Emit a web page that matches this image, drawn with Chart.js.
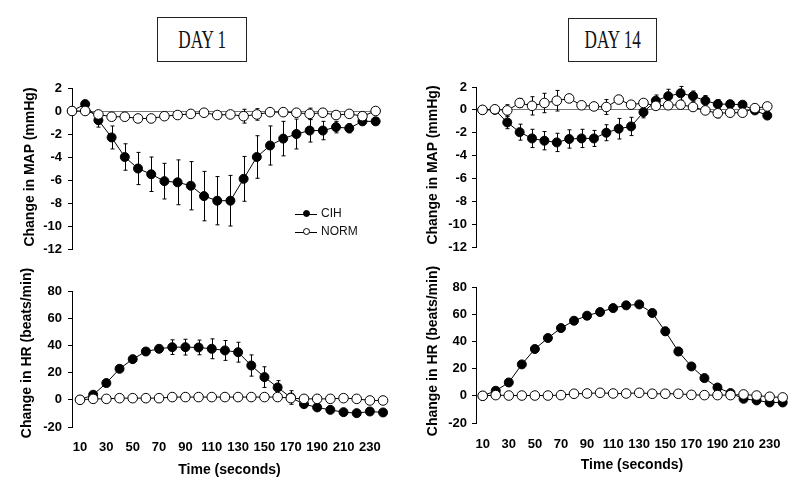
<!DOCTYPE html>
<html>
<head>
<meta charset="utf-8">
<script src="https://cdn.jsdelivr.net/npm/chart.js@4.4.1/dist/chart.umd.min.js"></script>
<style>
  body { margin: 0; background: #fff; }
  #page { position: relative; width: 800px; height: 487px; overflow: hidden; background: #fff; }
  .panel { position: absolute; }
  .daybox {
    position: absolute; border: 1px solid #222; box-sizing: border-box;
    display: flex; align-items: center; justify-content: center;
    font-family: 'Liberation Serif', 'Times New Roman', serif; font-size: 26px; color: #111;
  }
  .daybox span { display: inline-block; transform: scaleX(0.66); white-space: nowrap; }
  .ytitle {
    position: absolute; white-space: nowrap; color: #000;
    font-family: 'Liberation Sans', Arial, sans-serif; font-size: 14px; font-weight: bold;
    transform: translate(-50%, -50%) rotate(-90deg);
  }
  .leg { position: absolute; font-family: 'Liberation Sans', Arial, sans-serif; font-size: 12px; color: #111; }
  .leg .ln { position: absolute; left: 0; width: 22px; top: 0; border-top: 1px solid #000; }
  .leg .dot { position: absolute; left: 8px; top: -4px; width: 7px; height: 7px; border-radius: 50%; border: 1px solid #000; box-sizing: border-box; }
  .leg .lab { position: absolute; left: 26px; top: -8px; white-space: nowrap; }
</style>
</head>
<body>
<div id="page">
  <div class="daybox" style="left:157px;top:17px;width:90px;height:45px"><span>DAY 1</span></div>
  <div class="daybox" style="left:568px;top:18px;width:89px;height:44px"><span>DAY 14</span></div>

  <div class="panel" id="p1"><canvas id="mapDay1"></canvas></div>
  <div class="panel" id="p2"><canvas id="mapDay14"></canvas></div>
  <div class="panel" id="p3"><canvas id="hrDay1"></canvas></div>
  <div class="panel" id="p4"><canvas id="hrDay14"></canvas></div>

  <div class="ytitle" style="left:29px;top:167px">Change in MAP (mmHg)</div>
  <div class="ytitle" style="left:432px;top:165px">Change in MAP (mmHg)</div>
  <div class="ytitle" style="left:26px;top:353px">Change in HR (beats/min)</div>
  <div class="ytitle" style="left:432px;top:351px">Change in HR (beats/min)</div>

  <div class="leg" style="left:295px;top:214px"><span class="ln"></span><span class="dot" style="background:#000"></span><span class="lab">CIH</span></div>
  <div class="leg" style="left:295px;top:232px"><span class="ln"></span><span class="dot" style="background:#fff"></span><span class="lab">NORM</span></div>
</div>
<script>
// time points (seconds)
const times = [10,20,30,40,50,60,70,80,90,100,110,120,130,140,150,160,170,180,190,200,210,220,230,240];
const timeTicks = [10,30,50,70,90,110,130,150,170,190,210,230];
const mapTicks = [2,0,-2,-4,-6,-8,-10,-12];
const hrTicks = [80,60,40,20,0,-20];

// Day 1 - MAP (mmHg)
const mapDay1Cih  = [0, 0.6, -0.8, -2.3, -4.0, -5.0, -5.5, -6.1, -6.2, -6.5, -7.4, -7.8, -7.8, -5.9, -4.0, -3.0, -2.4, -2.0, -1.7, -1.7, -1.4, -1.5, -0.9, -0.9];
const mapDay1CihErr = [0, 0.3, 0.6, 1.0, 1.15, 1.4, 1.5, 1.55, 1.95, 2.1, 2.15, 2.1, 2.2, 1.95, 1.85, 1.7, 1.5, 1.3, 1.0, 0.8, 0.5, 0.4, 0.3, 0.3];
const mapDay1Norm = [0, 0, -0.3, -0.5, -0.5, -0.65, -0.65, -0.45, -0.35, -0.25, -0.15, -0.35, -0.3, -0.45, -0.3, -0.1, -0.1, -0.15, -0.25, -0.15, -0.35, -0.25, -0.45, 0];
const mapDay1NormErr = [0, 0, 0.2, 0.3, 0.2, 0.3, 0.2, 0.2, 0.2, 0.2, 0.2, 0.2, 0.2, 0.6, 0.5, 0.3, 0.3, 0.3, 0.5, 0.3, 0.3, 0.3, 0.3, 0.2];

// Day 14 - MAP (mmHg)
const mapDay14Cih  = [0, 0, -1.1, -1.95, -2.5, -2.7, -2.85, -2.55, -2.5, -2.5, -2.0, -1.65, -1.45, -0.2, 0.8, 1.2, 1.45, 1.2, 0.8, 0.5, 0.5, 0.45, -0.05, -0.5];
const mapDay14CihErr = [0, 0.1, 0.55, 0.7, 0.8, 0.8, 0.8, 0.8, 0.8, 0.7, 0.7, 0.9, 0.8, 0.5, 0.5, 0.6, 0.6, 0.45, 0.45, 0.4, 0.3, 0.3, 0.2, 0.2];
const mapDay14Norm = [0, 0.05, -0.05, 0.6, 0.35, 0.6, 0.8, 1.0, 0.4, 0.3, 0.25, 0.9, 0.45, 0.6, 0.35, 0.4, 0.45, 0.25, -0.05, -0.3, -0.25, -0.25, 0.15, 0.3];
const mapDay14NormErr = [0, 0.1, 0.5, 0.4, 0.8, 0.85, 0.9, 0.3, 0.2, 0.3, 0.65, 0.35, 0.2, 0.2, 0.2, 0.2, 0.3, 0.2, 0.2, 0.4, 0.2, 0.2, 0.2, 0.2];

// Day 1 - HR (beats/min)
const hrDay1Cih  = [0, 3.7, 12.3, 22.8, 29.9, 35.5, 37.5, 38.7, 38.7, 38.5, 37.5, 36.3, 35.0, 25.2, 16.7, 9.1, 1.7, -3.2, -5.6, -7.4, -9.1, -9.8, -8.6, -9.3];
const hrDay1CihErr = [0, 1, 1.5, 1.5, 1.5, 1.5, 2.5, 5.4, 5.8, 5.4, 7.3, 7.3, 7.3, 7.8, 7.6, 5, 5, 2, 1, 1, 1, 1, 1, 1];
const hrDay1Norm = [0, 0.7, 0.7, 1.2, 1.2, 1.2, 1.2, 2, 2, 2, 2, 2, 2, 2, 2, 2, 1.2, 0.7, 0.7, 0.7, 1.2, 0.7, -0.5, -0.5];
const hrDay1NormErr = [0, 1, 1, 1, 1, 1, 1, 1, 1, 1, 1, 1, 1, 1, 1, 1, 3, 1, 1, 1, 1, 1, 1, 1];

// Day 14 - HR (beats/min)
const hrDay14Cih  = [0, 3.7, 9.8, 23.1, 34.4, 42.5, 49.8, 55.2, 58.9, 61.6, 64.5, 66.5, 67.2, 60.9, 47.4, 32.6, 21.6, 13.0, 6.1, 2.0, -2.2, -3.4, -4.9, -4.9];
const hrDay14CihErr = [0, 1, 1, 1, 1, 1, 1, 1, 1, 1, 1, 1, 1, 1.5, 3, 3, 1.5, 1, 1, 1, 1, 1, 1, 1];
const hrDay14Norm = [0, 0.5, 0.2, 0.2, 0.2, 0.2, 0.5, 1.5, 1.7, 2.2, 1.7, 1.7, 2.2, 1.5, 1.5, 1.5, 0.7, 0.5, 0.5, 0.5, 1.0, 0.2, -0.7, -1.2];
const hrDay14NormErr = [0, 1, 1, 1, 1, 1, 1, 1, 1, 1, 1, 1, 1, 1, 1, 1, 1, 1, 1, 1, 1, 1, 1, 1];

Chart.defaults.font.family = "'Liberation Sans', Arial, sans-serif";
Chart.defaults.color = '#000';

// vertical error bars, drawn under the markers
const errorBars = {
  id: 'errorBars',
  beforeDatasetsDraw(chart) {
    const ctx = chart.ctx;
    const y = chart.scales.y;
    chart.data.datasets.forEach((ds, i) => {
      if (!ds.errors) return;
      const meta = chart.getDatasetMeta(i);
      ctx.save();
      ctx.strokeStyle = '#000';
      ctx.lineWidth = 1;
      meta.data.forEach((pt, j) => {
        const e = ds.errors[j];
        if (!e) return;
        const v = ds.data[j].y;
        const top = y.getPixelForValue(v + e);
        const bot = y.getPixelForValue(v - e);
        const x = Math.round(pt.x) + 0.5;
        ctx.beginPath();
        ctx.moveTo(x, top); ctx.lineTo(x, bot);
        ctx.moveTo(x - 2, top); ctx.lineTo(x + 2, top);
        ctx.moveTo(x - 2, bot); ctx.lineTo(x + 2, bot);
        ctx.stroke();
      });
      ctx.restore();
    });
  }
};

function pts(vals) {
  return times.map((t, i) => ({ x: t, y: vals[i] }));
}

function panel(canvasId, box, opt) {
  const wrap = document.getElementById(canvasId).parentNode;
  wrap.style.left = box.left + 'px';
  wrap.style.top = box.top + 'px';
  wrap.style.width = box.width + 'px';
  wrap.style.height = box.height + 'px';

  new Chart(document.getElementById(canvasId), {
    type: 'line',
    data: {
      datasets: [
        {
          label: 'CIH',
          data: pts(opt.cih),
          errors: opt.cihErr,
          borderColor: '#000',
          borderWidth: 1,
          backgroundColor: '#000',
          pointBackgroundColor: '#000',
          pointBorderColor: '#000',
          pointRadius: 4.5,
          pointBorderWidth: 1,
          tension: 0,
          clip: false,
          order: 1
        },
        {
          label: 'NORM',
          data: pts(opt.norm),
          errors: opt.normErr,
          borderColor: '#000',
          borderWidth: 1,
          backgroundColor: '#fff',
          pointBackgroundColor: '#fff',
          pointBorderColor: '#000',
          pointRadius: 4.8,
          pointBorderWidth: 1,
          tension: 0,
          clip: false,
          order: 0
        }
      ]
    },
    options: {
      responsive: true,
      maintainAspectRatio: false,
      animation: false,
      events: [],
      layout: { padding: { top: 10, right: 10, left: 0, bottom: opt.showX ? 0 : 8 } },
      plugins: { legend: { display: false }, tooltip: { enabled: false } },
      scales: {
        x: {
          type: 'linear',
          min: opt.xMin,
          max: opt.xMax,
          display: opt.showX,
          border: { display: false },
          grid: { display: false, drawTicks: false },
          ticks: {
            autoSkip: false,
            maxRotation: 0,
            padding: opt.xPad,
            font: { size: 13, weight: 'bold' },
            color: '#000'
          },
          title: {
            display: true,
            text: 'Time (seconds)',
            font: { size: 14, weight: 'bold' },
            padding: 0,
            color: '#000'
          },
          afterBuildTicks(scale) {
            scale.ticks = timeTicks.map(v => ({ value: v }));
          },
          afterFit(scale) {
            scale.height = opt.xHeight || 0;
            scale.paddingLeft = 0;
            scale.paddingRight = 0;
          }
        },
        y: {
          min: opt.yTicks[opt.yTicks.length - 1],
          max: opt.yTicks[0],
          border: { display: true, color: '#000', width: 1 },
          grid: {
            drawOnChartArea: opt.zeroLine,
            color: ctx => (ctx.tick && ctx.tick.value === 0) ? '#777' : 'rgba(0,0,0,0)',
            tickColor: '#000',
            tickLength: 4,
            lineWidth: 1
          },
          ticks: {
            padding: opt.yPad,
            font: { size: 13, weight: 'bold' },
            color: '#000'
          },
          afterBuildTicks(scale) {
            scale.ticks = opt.yTicks.map(v => ({ value: v })).reverse();
          },
          afterFit(scale) {
            scale.width = opt.yWidth;
            scale.paddingTop = 0;
            scale.paddingBottom = 0;
          }
        }
      }
    },
    plugins: [errorBars]
  });
}

panel('mapDay1', { left: 20, top: 78, width: 370, height: 179 }, {
  cih: mapDay1Cih, cihErr: mapDay1CihErr, norm: mapDay1Norm, normErr: mapDay1NormErr,
  xMin: 10, xMax: 243.3, showX: false, yTicks: mapTicks, zeroLine: true,
  yWidth: 52, yPad: 6
});

panel('mapDay14', { left: 423, top: 77, width: 358, height: 178 }, {
  cih: mapDay14Cih, cihErr: mapDay14CihErr, norm: mapDay14Norm, normErr: mapDay14NormErr,
  xMin: 4.75, xMax: 243, showX: false, yTicks: mapTicks, zeroLine: true,
  yWidth: 53, yPad: 5
});

panel('hrDay1', { left: 17, top: 281, width: 380, height: 198 }, {
  cih: hrDay1Cih, cihErr: hrDay1CihErr, norm: hrDay1Norm, normErr: hrDay1NormErr,
  xMin: 3.93, xMax: 243, showX: true, xPad: 13, xHeight: 52, yTicks: hrTicks, zeroLine: false,
  yWidth: 55, yPad: 6
});

panel('hrDay14', { left: 423, top: 277, width: 375, height: 197 }, {
  cih: hrDay14Cih, cihErr: hrDay14CihErr, norm: hrDay14Norm, normErr: hrDay14NormErr,
  xMin: 4.86, xMax: 244.07, showX: true, xPad: 14, xHeight: 51, yTicks: hrTicks, zeroLine: false,
  yWidth: 53, yPad: 5
});
</script>
</body>
</html>
